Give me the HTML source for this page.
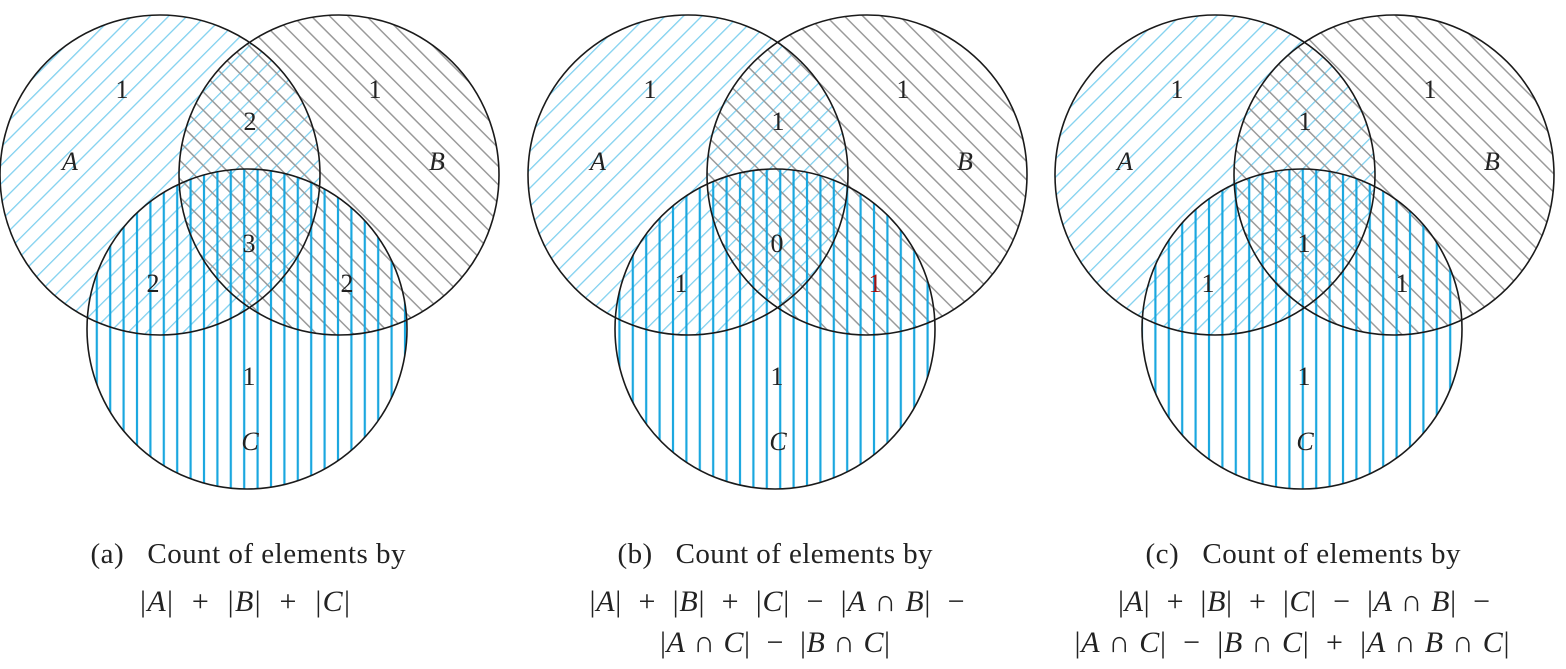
<!DOCTYPE html>
<html><head><meta charset="utf-8"><style>
html,body{margin:0;padding:0;background:#fff;}
svg{display:block;font-family:"Liberation Serif",serif;}
.cap text{white-space:pre;}
</style></head><body>
<svg width="1566" height="669" viewBox="0 0 1566 669">
<defs>
<pattern id="pA" width="13" height="13" patternUnits="userSpaceOnUse" patternTransform="rotate(45)">
<line x1="0" y1="0" x2="0" y2="13" stroke="#7fd0ef" stroke-width="2.6"/></pattern>
<pattern id="pB" width="13" height="13" patternUnits="userSpaceOnUse" patternTransform="rotate(-45)">
<line x1="0" y1="0" x2="0" y2="13" stroke="#9a9a9a" stroke-width="3"/></pattern>
<pattern id="pC" width="13.4" height="13" patternUnits="userSpaceOnUse">
<line x1="3" y1="0" x2="3" y2="13" stroke="#1aa7df" stroke-width="2.2"/></pattern>
</defs>
<g id="panels"></g>
<g class="cap" font-size="29" text-anchor="middle" fill="#222" lengthAdjust="spacing">
<text x="248" y="563" textLength="315">(a)   Count of elements by</text>
<text x="245" y="611" font-size="30" textLength="210">|<tspan font-style="italic">A</tspan>|  +  |<tspan font-style="italic">B</tspan>|  +  |<tspan font-style="italic">C</tspan>|</text>
<text x="775" y="563" textLength="315">(b)   Count of elements by</text>
<text x="777" y="611" font-size="30" textLength="375">|<tspan font-style="italic">A</tspan>|  +  |<tspan font-style="italic">B</tspan>|  +  |<tspan font-style="italic">C</tspan>|  −  |<tspan font-style="italic">A</tspan> ∩ <tspan font-style="italic">B</tspan>|  −</text>
<text x="775" y="652" font-size="30" textLength="230">|<tspan font-style="italic">A</tspan> ∩ <tspan font-style="italic">C</tspan>|  −  |<tspan font-style="italic">B</tspan> ∩ <tspan font-style="italic">C</tspan>|</text>
<text x="1303" y="563" textLength="315">(c)   Count of elements by</text>
<text x="1304" y="611" font-size="30" textLength="372">|<tspan font-style="italic">A</tspan>|  +  |<tspan font-style="italic">B</tspan>|  +  |<tspan font-style="italic">C</tspan>|  −  |<tspan font-style="italic">A</tspan> ∩ <tspan font-style="italic">B</tspan>|  −</text>
<text x="1292" y="652" font-size="30" textLength="435">|<tspan font-style="italic">A</tspan> ∩ <tspan font-style="italic">C</tspan>|  −  |<tspan font-style="italic">B</tspan> ∩ <tspan font-style="italic">C</tspan>|  +  |<tspan font-style="italic">A</tspan> ∩ <tspan font-style="italic">B</tspan> ∩ <tspan font-style="italic">C</tspan>|</text>
</g>
</svg>
<script>
const panelOffsets=[0,528,1055];
const panelNames=['a','b','c'];
// region counts: A only, B only, AB, AC, ABC, BC, C only
const countsA=[1,1,2,2,3,2,1];
const countsB=[1,1,1,1,0,1,1];
const countsC=[1,1,1,1,1,1,1];
const allCounts=[countsA,countsB,countsC];
const NS='http://www.w3.org/2000/svg';
const g=document.getElementById('panels');
function mk(t,a){const e=document.createElementNS(NS,t);for(const k in a)e.setAttribute(k,a[k]);return e;}
const circ=[[160,175,'A','pA'],[339,175,'B','pB'],[247,329,'C','pC']];
const labelPos=[[122,98],[375,98],[250,130],[153,292],[249,252],[347,292],[249,385]];
panelOffsets.forEach((ox,i)=>{
  const pg=mk('g',{});
  
  
  circ.forEach(c=>{
    const f=mk('circle',{cx:c[0]+ox,cy:c[1],r:160,fill:'url(#'+c[3]+')'});
    
    
    pg.appendChild(f);
  });
  circ.forEach(c=>{
    const o=mk('circle',{cx:c[0]+ox,cy:c[1],r:160,fill:'none',stroke:'#1a1a1a','stroke-width':1.6});
    
    
    pg.appendChild(o);
  });
  allCounts[i].forEach((v,j)=>{
    const t=mk('text',{x:labelPos[j][0]+ox,y:labelPos[j][1],'font-size':26,'text-anchor':'middle',fill:(i===1&&j===5)?'#a01010':'#222'});
    t.textContent=v;
    
    
    pg.appendChild(t);
  });
  [['A',70,170],['B',437,170],['C',250,450]].forEach(l=>{
    const t=mk('text',{x:l[1]+ox,y:l[2],'font-size':26,'font-style':'italic','text-anchor':'middle',fill:'#222'});
    t.textContent=l[0];
    
    
    pg.appendChild(t);
  });
  g.appendChild(pg);
});
</script>
</body></html>
